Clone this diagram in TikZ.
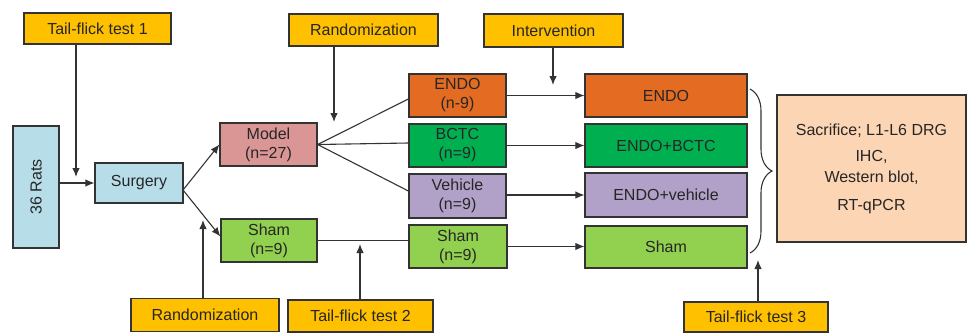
\documentclass[tikz,border=0pt]{standalone}
\usepackage{fontspec}
\setmainfont{Liberation Sans}
\usetikzlibrary{arrows.meta,decorations.pathreplacing}
\definecolor{stepyellow}{HTML}{FFC000}
\definecolor{ratblue}{HTML}{B7DEE8}
\definecolor{modelred}{HTML}{DA9694}
\definecolor{shamgreen}{HTML}{92D050}
\definecolor{endoorange}{HTML}{E46C22}
\definecolor{bctcgreen}{HTML}{00B050}
\definecolor{vehpurple}{HTML}{B1A0C7}
\definecolor{resultpeach}{HTML}{FCD5B4}
\begin{document}
\begin{tikzpicture}[x=1pt,y=-1pt]
    \tikzset{box/.style={draw=black!80,line width=1.2pt,inner sep=0pt,align=center,text=black!85,font=\fontsize{16}{19}\selectfont}};
    \tikzset{arr/.style={line width=1.1pt,draw=black!80,-{Latex[length=9pt,width=7.5pt]}}};
    \tikzset{link/.style={line width=1.1pt,draw=black!80}};
    \useasboundingbox (0,0) rectangle (967,333);
    % time points
    \node[box,fill=stepyellow,minimum width=147,minimum height=31] (tf1) at (97.5,28.5) {Tail-flick test 1};
    \node[box,fill=stepyellow,minimum width=149,minimum height=32] (rand1) at (363.5,30) {Randomization};
    \node[box,fill=stepyellow,minimum width=139,minimum height=33] (interv) at (553.5,30.5) {Intervention};
    \node[box,fill=stepyellow,minimum width=148,minimum height=33] (rand2) at (205,315) {Randomization};
    \node[box,fill=stepyellow,minimum width=145,minimum height=32] (tf2) at (360.5,316) {Tail-flick test 2};
    \node[box,fill=stepyellow,minimum width=144,minimum height=30] (tf3) at (756,317) {Tail-flick test 3};
    % animals
    \node[box,fill=ratblue,rotate=90,minimum width=122,minimum height=46] (rats) at (36,187) {36 Rats};
    \node[box,fill=ratblue,minimum width=88,minimum height=40] (surgery) at (139,183) {Surgery};
    \node[box,fill=modelred,minimum width=97,minimum height=43] (model) at (268.5,144.5) {Model\\(n=27)};
    \node[box,fill=shamgreen,minimum width=96,minimum height=43] (sham1) at (269,240.5) {Sham\\(n=9)};
    \node[box,fill=endoorange,minimum width=97,minimum height=43] (endo) at (457.5,95.5) {ENDO\\(n-9)};
    \node[box,fill=bctcgreen,minimum width=97,minimum height=43] (bctc) at (457.5,145.5) {BCTC\\(n=9)};
    \node[box,fill=vehpurple,minimum width=97,minimum height=44] (vehicle) at (457.5,196) {Vehicle\\(n=9)};
    \node[box,fill=shamgreen,minimum width=98,minimum height=43] (sham2) at (458,246.5) {Sham\\(n=9)};
    % groups
    \node[box,fill=endoorange,minimum width=162,minimum height=43] (gEndo) at (666,95.5) {ENDO};
    \node[box,fill=bctcgreen,minimum width=162,minimum height=43] (gBctc) at (666,145.5) {ENDO+BCTC};
    \node[box,fill=vehpurple,minimum width=162,minimum height=44] (gVeh) at (666,195) {ENDO+vehicle};
    \node[box,fill=shamgreen,minimum width=162,minimum height=42] (gSham) at (666,247) {Sham};
    \node[box,fill=resultpeach,minimum width=189,minimum height=147] (result) at (871.5,168.5) {Sacrifice; L1-L6 DRG\\[7pt]IHC,\\[2pt]Western blot,\\[9pt]RT-qPCR};
    % connectors
    \coordinate (split) at (183,190);
    \coordinate (tf1end) at (76,177);
    \coordinate (rand1end) at (334,122);
    \coordinate (intervend) at (553,85);
    \coordinate (rand2end) at (203,220);
    \coordinate (tf2end) at (360,244);
    \coordinate (tf3end) at (758,260);
    \draw[arr] (rats.south |- surgery.west) -- (surgery.west);
    \draw[arr] (split) -- (model.west);
    \draw[arr] (split) -- ([yshift=4pt]sham1.west);
    \draw[link] (model.east) -- ([yshift=-3.5pt]endo.west);
    \draw[link] (model.east) -- ([yshift=2.5pt]bctc.west);
    \draw[link] (model.east) -- ([yshift=5pt]vehicle.west);
    \draw[link] (sham1.east) -- (sham1.east -| sham2.west);
    \draw[arr] (endo.east) -- (gEndo.west);
    \draw[arr] (bctc.east) -- (gBctc.west);
    \draw[arr] (vehicle.east |- gVeh.west) -- (gVeh.west);
    \draw[arr] (sham2.east) -- (sham2.east -| gSham.west);
    \draw[arr] (tf1.south -| tf1end) -- (tf1end);
    \draw[arr] (rand1.south -| rand1end) -- (rand1end);
    \draw[arr] (interv.south -| intervend) -- (intervend);
    \draw[arr] (rand2.north -| rand2end) -- (rand2end);
    \draw[arr] (tf2.north -| tf2end) -- (tf2end);
    \draw[arr] (tf3.north -| tf3end) -- (tf3end);
    \draw[link,decorate,decoration={brace,amplitude=22pt}] (750,89) -- (750,253);
\end{tikzpicture}
\end{document}
